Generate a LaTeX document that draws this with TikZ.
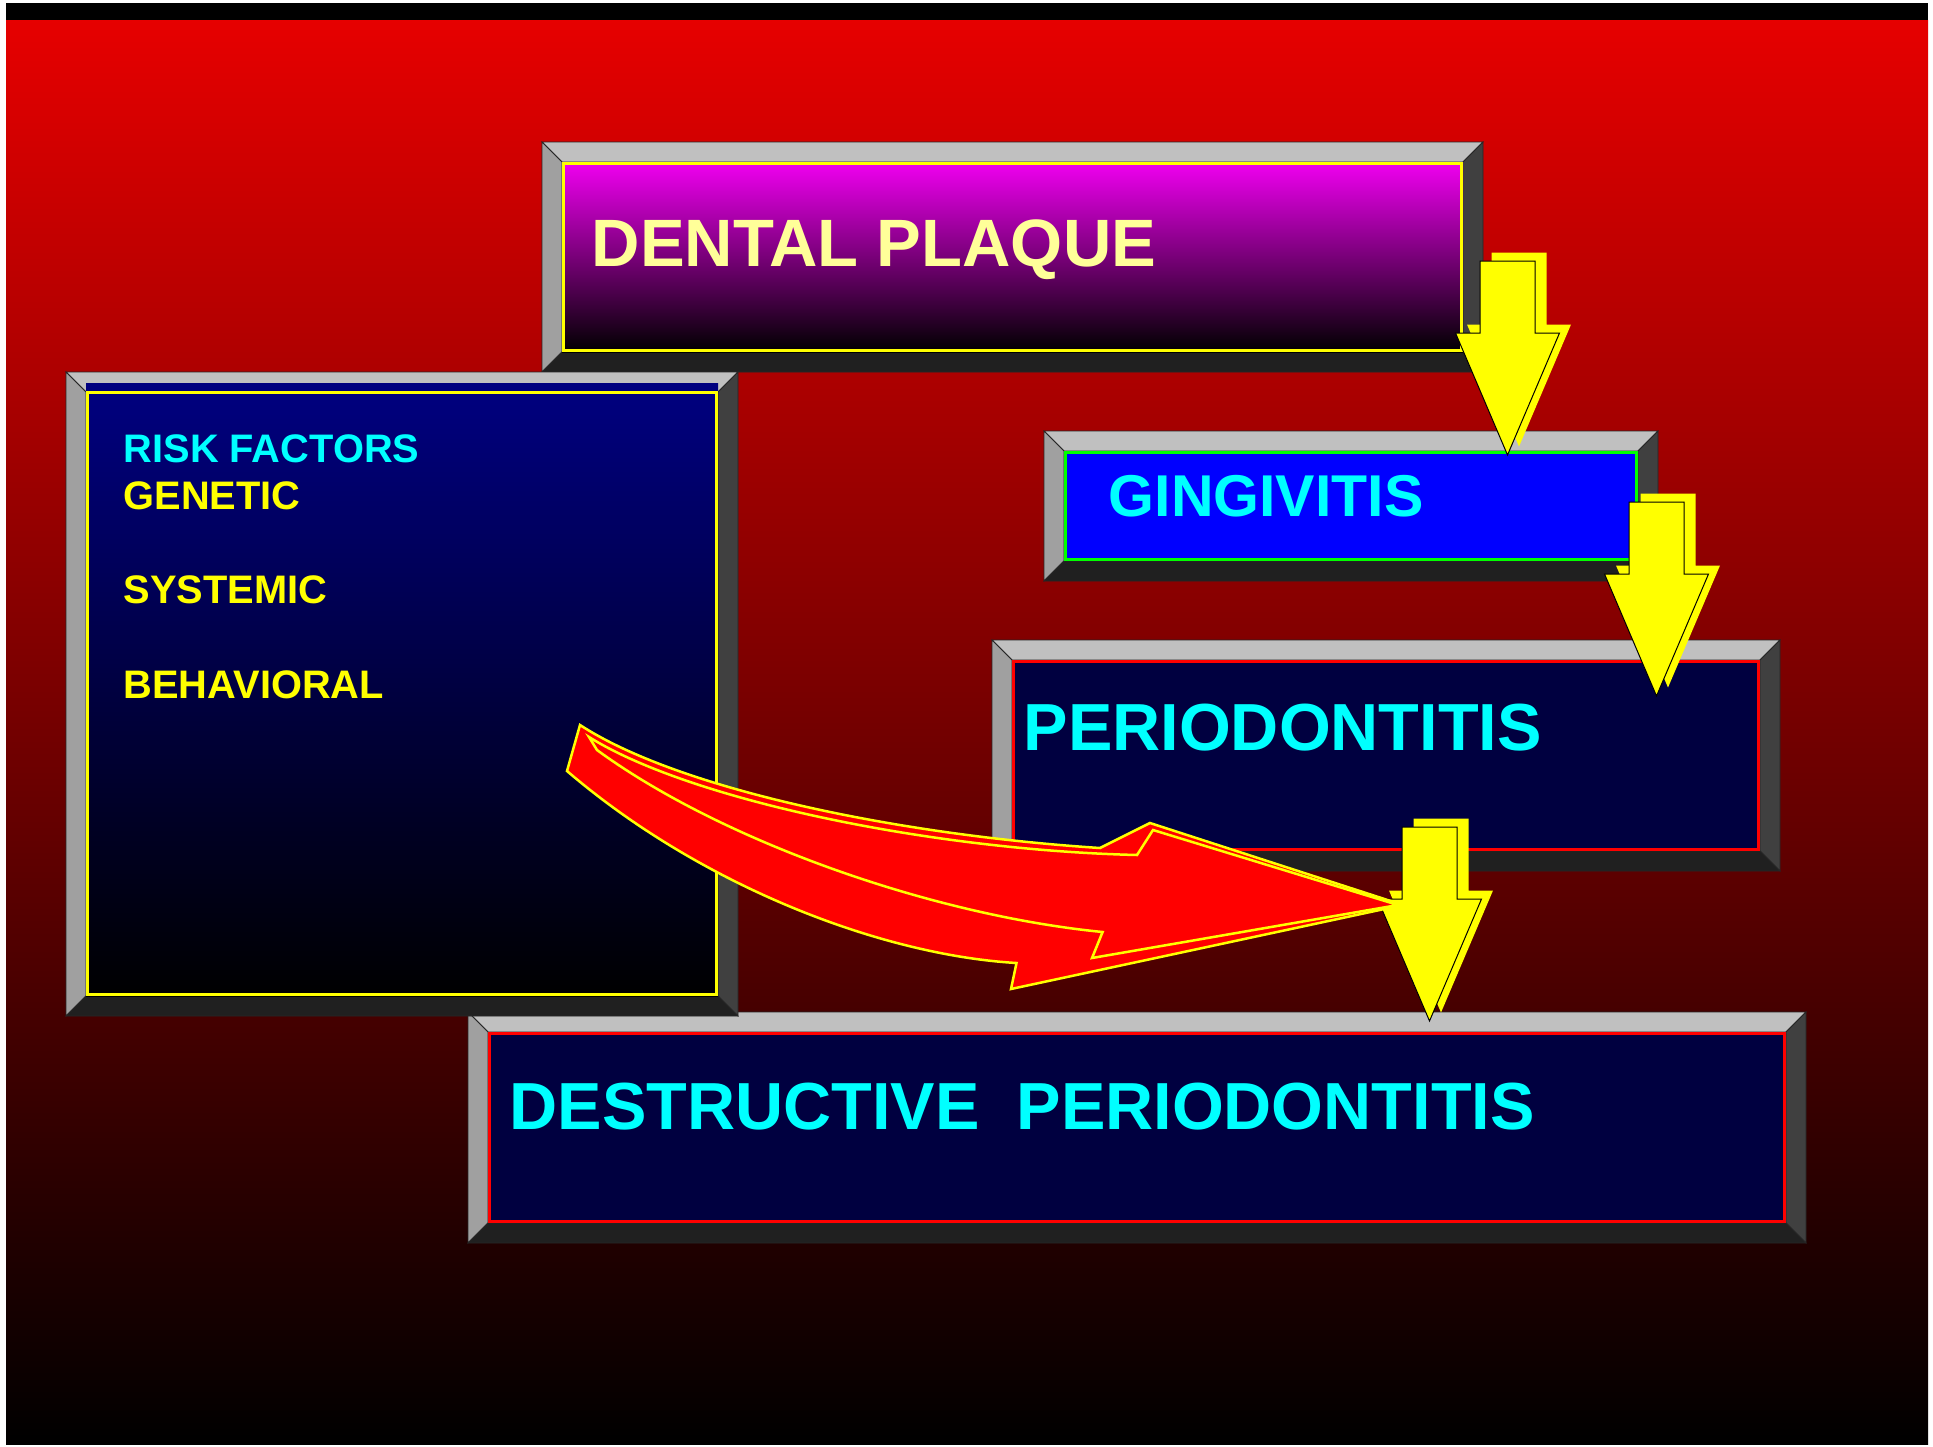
\documentclass[tikz,border=0pt]{standalone}
\usepackage{fontspec}
\setmainfont{Liberation Sans}
\usepackage{xcolor}
\usepackage{tikz}
\usetikzlibrary{calc}
\definecolor{slideRed}{RGB}{230,0,0}
\definecolor{plaqueMagenta}{RGB}{240,0,240}
\definecolor{plaqueText}{RGB}{255,255,153}
\definecolor{riskNavy}{RGB}{0,0,128}
\definecolor{perioNavy}{RGB}{0,0,64}
\definecolor{gingBlue}{RGB}{0,0,255}
\definecolor{gingGreen}{RGB}{0,255,0}
\definecolor{txtCyan}{RGB}{0,255,255}
\definecolor{txtYellow}{RGB}{255,255,0}
\definecolor{arrowRed}{RGB}{255,0,0}
\definecolor{bevLight}{RGB}{192,192,192}
\definecolor{bevMid}{RGB}{160,160,160}
\definecolor{bevDark}{RGB}{64,64,64}
\definecolor{bevDeep}{RGB}{32,32,32}

\begin{document}
\begin{tikzpicture}[x=1pt,y=-1pt,
  bevel/.style={draw=black!85,line width=0.8pt},
  label/.style={anchor=base west,inner sep=0pt,font=\bfseries\fontsize{#1}{#1}\selectfont},
  redarrow/.style={fill=arrowRed,draw=txtYellow,line width=2.5pt,line join=miter},
  pics/blockdown/.style={code={
    \fill[txtYellow] (11.5,-8.5) -- ++(-52,-122) -- ++(24.5,0) -- ++(0,-72) -- ++(55,0) -- ++(0,72) -- ++(24.5,0) -- cycle;
    \filldraw[fill=txtYellow,draw=black,line width=1pt] (0,0) -- (-52,-122) -- (-27.5,-122) -- (-27.5,-194) -- (27.5,-194) -- (27.5,-122) -- (52,-122) -- cycle;
  }}]
\useasboundingbox (0,0) rectangle (1933,1446);
\fill[white] (0,0) rectangle (1933,1446);
\shade[top color=slideRed,bottom color=black] (6,20) rectangle (1928,1444);
\fill[black] (6,3) rectangle (1928,20);

\foreach \xa/\ya/\xb/\yb in {468/1012/1806/1243, 992/640/1780/871, 1044/431/1658/581, 542/142/1483/372, 66/372/738/1016}{
  \filldraw[bevel,fill=bevLight] (\xa,\ya) -- (\xb,\ya) -- (\xb-20,\ya+20) -- (\xa+20,\ya+20) -- cycle;
  \filldraw[bevel,fill=bevMid] (\xa,\ya) -- (\xa+20,\ya+20) -- (\xa+20,\yb-20) -- (\xa,\yb) -- cycle;
  \filldraw[bevel,fill=bevDark] (\xb,\ya) -- (\xb,\yb) -- (\xb-20,\yb-20) -- (\xb-20,\ya+20) -- cycle;
  \filldraw[bevel,fill=bevDeep] (\xa,\yb) -- (\xa+20,\yb-20) -- (\xb-20,\yb-20) -- (\xb,\yb) -- cycle;
}

\shade[top color=plaqueMagenta,bottom color=black] (562,162) rectangle (1463,352);
\draw[txtYellow,line width=2.5pt] (563.5,163.5) rectangle (1461.5,350.5);
\node[label=67,text=plaqueText] (plaque) at (591.5,266) {DENTAL PLAQUE};

\fill[gingBlue] (1064,451) rectangle (1638,561);
\draw[gingGreen,line width=3pt] (1065.5,452.5) rectangle (1636.5,559.5);
\node[label=59,text=txtCyan] (gingiv) at (1108.5,516) {GINGIVITIS};

\fill[perioNavy] (1012,660) rectangle (1760,851);
\draw[arrowRed,line width=2.5pt] (1013.5,661.5) rectangle (1758.5,849.5);
\node[label=66.6,text=txtCyan] (perio) at (1023.5,750) {PERIODONTITIS};

\fill[perioNavy] (488,1032) rectangle (1786,1223);
\draw[arrowRed,line width=2.5pt] (489.5,1033.5) rectangle (1784.5,1221.5);
\node[label=66.6,text=txtCyan] (destr) at (509.5,1129) {DESTRUCTIVE~~PERIODONTITIS};

\shade[top color=riskNavy,bottom color=black] (86,383) rectangle (718,996);
\draw[txtYellow,line width=2.5pt] (87.5,392.5) rectangle (716.5,994.5);
\node[label=39.8,text=txtCyan] (risk) at (123.5,462) {RISK FACTORS};
\node[label=39.8,text=txtYellow] (genetic) at (123.5,509) {GENETIC};
\node[label=39.8,text=txtYellow] (systemic) at (123.5,603) {SYSTEMIC};
\node[label=39.8,text=txtYellow] (behav) at (123.5,698) {BEHAVIORAL};

\pic at (1507.5,455) {blockdown};
\pic at (1656.5,696) {blockdown};
\pic at (1429.5,1021) {blockdown};

\filldraw[redarrow] (580,725) .. controls (680,790) and (900,835) .. (1100,848) -- (1150,823) -- (1403,905) -- (1011,989) -- (1016.5,963) .. controls (880,955) and (700,885) .. (567,771) -- cycle;
\filldraw[redarrow] (589,737) .. controls (690,800) and (930,850) .. (1137,855) -- (1153,830) -- (1398,905) -- (1092,958) -- (1102.6,932) .. controls (930,915) and (720,840) .. (597,750) -- cycle;
\end{tikzpicture}
\end{document}
